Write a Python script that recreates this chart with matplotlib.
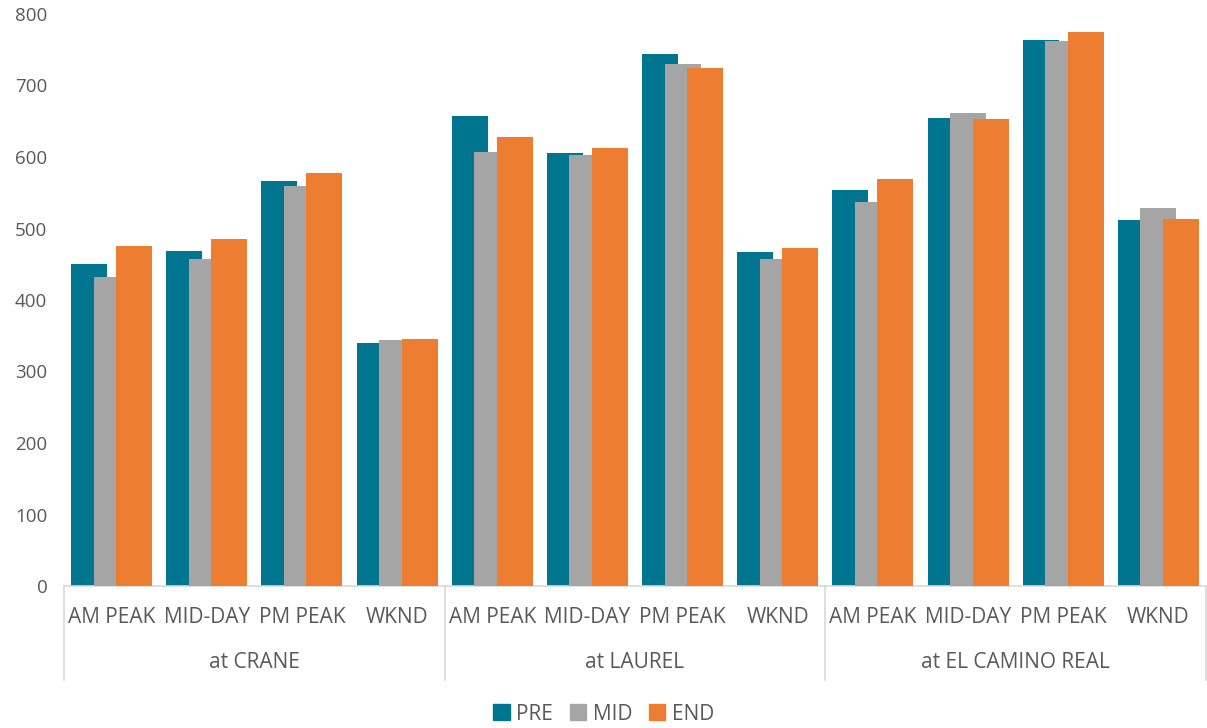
import matplotlib.pyplot as plt
import numpy as np
from matplotlib.patches import Patch

locations = ['at CRANE', 'at LAUREL', 'at EL CAMINO REAL']
periods = ['AM PEAK', 'MID-DAY', 'PM PEAK', 'WKND']

pre = [451, 469, 566, 340,
       657, 605, 744, 467,
       554, 655, 763, 512]
mid = [432, 457, 559, 344,
       607, 603, 730, 457,
       537, 662, 762, 528]
end = [475, 486, 577, 346,
       628, 613, 725, 473,
       569, 653, 775, 513]

series = [('PRE', pre, '#00758F'), ('MID', mid, '#A5A5A5'), ('END', end, '#ED7D31')]

txt = '#595959'
lab_font = 'Open Sans'

fig = plt.figure(figsize=(12.07, 7.28), dpi=100)
ax = fig.add_axes([64 / 1207, 1 - 586 / 728, 1142 / 1207, (586 - 14) / 728])

x = np.arange(len(pre))
w = 0.378
off = 0.236
for i, (name, vals, col) in enumerate(series):
    ax.bar(x + (i - 1) * off, vals, width=w, color=col, linewidth=0, zorder=2 + i)

ax.set_xlim(-0.5, len(pre) - 0.5)
ax.set_ylim(0, 800)
ax.set_yticks(range(0, 801, 100))
ax.tick_params(axis='y', length=0, labelsize=13.5, labelcolor=txt, pad=12)
for lab in ax.get_yticklabels():
    lab.set_fontfamily(lab_font)
ax.set_xticks([])
for s in ['top', 'right', 'left']:
    ax.spines[s].set_visible(False)
ax.spines['bottom'].set_color('#D9D9D9')
ax.spines['bottom'].set_linewidth(1.2)

trans = ax.get_xaxis_transform()
# period labels
for k in range(len(pre)):
    ax.text(k, -0.055, periods[k % 4], transform=trans, ha='center', va='center',
            fontsize=15, color=txt, family=lab_font)
# location labels and separators
for g, loc in enumerate(locations):
    ax.text(g * 4 + 1.5, -0.134, loc, transform=trans, ha='center', va='center',
            fontsize=15, color=txt, family=lab_font)
for b in [-0.5, 3.5, 7.5, 11.5]:
    ax.plot([b, b], [0, -0.165], transform=trans, color='#D9D9D9', lw=1.2, clip_on=False)

handles = [Patch(color=c, label=n) for n, _, c in series]
fig.legend(handles=handles, loc='center', bbox_to_anchor=(0.5, 1 - 714 / 728), ncol=3,
           frameon=False, handlelength=0.8, handleheight=0.8, handletextpad=0.3,
           columnspacing=0.8, prop={'family': lab_font, 'size': 15}, labelcolor=txt)

fig.savefig('out.png', dpi=100)
